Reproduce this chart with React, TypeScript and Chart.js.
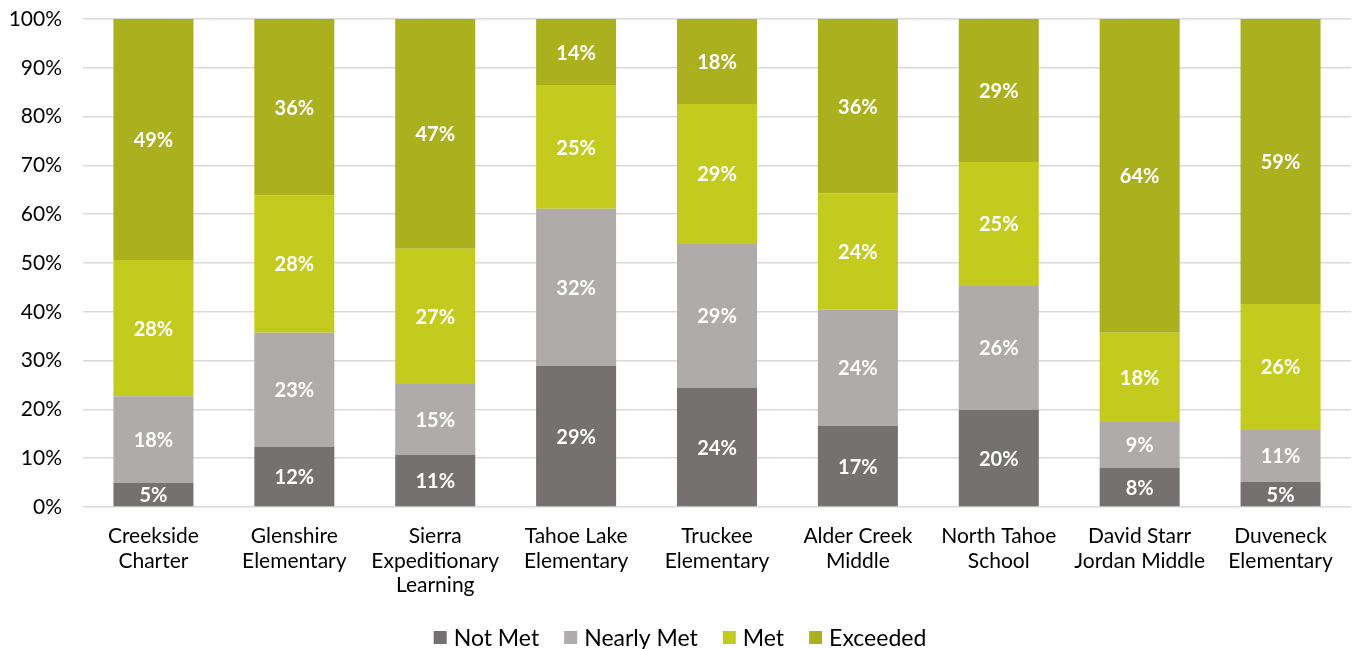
import React, { useEffect, useRef } from "react";
import { Chart, registerables } from "chart.js";
Chart.register(...registerables);

const categories: string[][] = [
  ["Creekside", "Charter"],
  ["Glenshire", "Elementary"],
  ["Sierra", "Expeditionary", "Learning"],
  ["Tahoe Lake", "Elementary"],
  ["Truckee", "Elementary"],
  ["Alder Creek", "Middle"],
  ["North Tahoe", "School"],
  ["David Starr", "Jordan Middle"],
  ["Duveneck", "Elementary"],
];
const seriesNames = ["Not Met", "Nearly Met", "Met", "Exceeded"];
const seriesColors = ["#767171", "#AFABAB", "#C4CB1F", "#AAB01E"];
const notMet = [4.9, 12.3, 10.7, 28.9, 24.4, 16.6, 19.9, 8.0, 5.1];
const nearlyMet = [17.8, 23.4, 14.5, 32.2, 29.5, 23.8, 25.4, 9.4, 10.7];
const met = [27.9, 28.2, 27.7, 25.2, 28.7, 23.9, 25.4, 18.3, 25.8];
const exceeded = [49.4, 36.1, 47.1, 13.7, 17.4, 35.7, 29.3, 64.3, 58.4];
const labelNotMet = [5, 12, 11, 29, 24, 17, 20, 8, 5];
const labelNearlyMet = [18, 23, 15, 32, 29, 24, 26, 9, 11];
const labelMet = [28, 28, 27, 25, 29, 24, 25, 18, 26];
const labelExceeded = [49, 36, 47, 14, 18, 36, 29, 64, 59];
const yTicks = [0, 10, 20, 30, 40, 50, 60, 70, 80, 90, 100];

const FONT = "Lato, 'Open Sans', sans-serif";

const barLabels = {
  id: "barLabels",
  afterDatasetsDraw(chart: any) {
    const ctx = chart.ctx;
    ctx.save();
    ctx.fillStyle = "#ffffff";
    ctx.font = `bold 20px ${FONT}`;
    ctx.textAlign = "center";
    ctx.textBaseline = "middle";
    chart.data.datasets.forEach((ds: any, i: number) => {
      const meta = chart.getDatasetMeta(i);
      meta.data.forEach((bar: any, j: number) => {
        const y = (bar.y + bar.base) / 2;
        ctx.fillText(`${ds.labelsText[j]}%`, bar.x, y + 1);
      });
    });
    ctx.restore();
  },
};

const customLegend = {
  id: "customLegend",
  afterDraw(chart: any) {
    const ctx = chart.ctx;
    ctx.save();
    ctx.font = `23px ${FONT}`;
    ctx.textBaseline = "middle";
    ctx.textAlign = "left";
    const box = 13;
    const gap = 7;
    const spacing = 25;
    const items = chart.data.datasets.map((ds: any) => ({
      text: ds.label,
      color: ds.backgroundColor,
      w: ctx.measureText(ds.label).width,
    }));
    const total =
      items.reduce((s: number, it: any) => s + box + gap + it.w, 0) + spacing * (items.length - 1);
    let x = chart.width / 2 + 2 - total / 2;
    const cy = 637.5;
    items.forEach((it: any) => {
      ctx.fillStyle = it.color;
      ctx.fillRect(x, cy - box / 2, box, box);
      ctx.fillStyle = "#000";
      ctx.fillText(it.text, x + box + gap, cy + 1);
      x += box + gap + it.w + spacing;
    });
    ctx.restore();
  },
};

export default function App() {
  const ref = useRef<HTMLCanvasElement | null>(null);
  useEffect(() => {
    if (!ref.current) return;
    const mk = (i: number, data: number[], txt: number[]) => ({
      label: seriesNames[i],
      data,
      labelsText: txt,
      backgroundColor: seriesColors[i],
      borderWidth: 0,
      barPercentage: 0.568,
      categoryPercentage: 1,
    });
    const chart = new Chart(ref.current, {
      type: "bar",
      data: {
        labels: categories,
        datasets: [
          mk(0, notMet, labelNotMet),
          mk(1, nearlyMet, labelNearlyMet),
          mk(2, met, labelMet),
          mk(3, exceeded, labelExceeded),
        ] as any,
      },
      options: {
        animation: false,
        responsive: false,
        maintainAspectRatio: false,
        layout: { padding: { left: 0, right: 5, top: 19, bottom: 52 } },
        scales: {
          x: {
            stacked: true,
            grid: { display: false, drawTicks: false },
            border: { display: false },
            afterFit: (scale: any) => {
              scale.height = 90;
              scale.paddingLeft = 0;
              scale.paddingRight = 0;
              scale.paddingTop = 0;
              scale.paddingBottom = 0;
            },
            ticks: {
              color: "#000",
              font: { family: FONT, size: 21, lineHeight: 1.17 },
              padding: 17,
              maxRotation: 0,
              autoSkip: false,
            },
          },
          y: {
            stacked: true,
            min: 0,
            max: 100,
            afterBuildTicks: (axis: any) => {
              axis.ticks = yTicks.map((v) => ({ value: v }));
            },
            afterFit: (scale: any) => {
              scale.width = 83;
              scale.paddingTop = 0;
              scale.paddingBottom = 0;
              scale.paddingLeft = 0;
              scale.paddingRight = 0;
            },
            grid: { color: "#D9D9D9", lineWidth: 1.5, drawTicks: false },
            border: { display: false },
            ticks: {
              color: "#000",
              font: { family: FONT, size: 21 },
              padding: 21,
              callback: (v: any) => `${v}%`,
            },
          },
        },
        plugins: {
          legend: { display: false },
          tooltip: { enabled: false },
        },
      },
      plugins: [barLabels, customLegend],
    });
    return () => chart.destroy();
  }, []);
  return (
    <div style={{ position: "fixed", left: 0, top: 0, width: 1356, height: 649, background: "#fff" }}>
      <canvas ref={ref} width={1356} height={649} style={{ width: 1356, height: 649 }} />
    </div>
  );
}
